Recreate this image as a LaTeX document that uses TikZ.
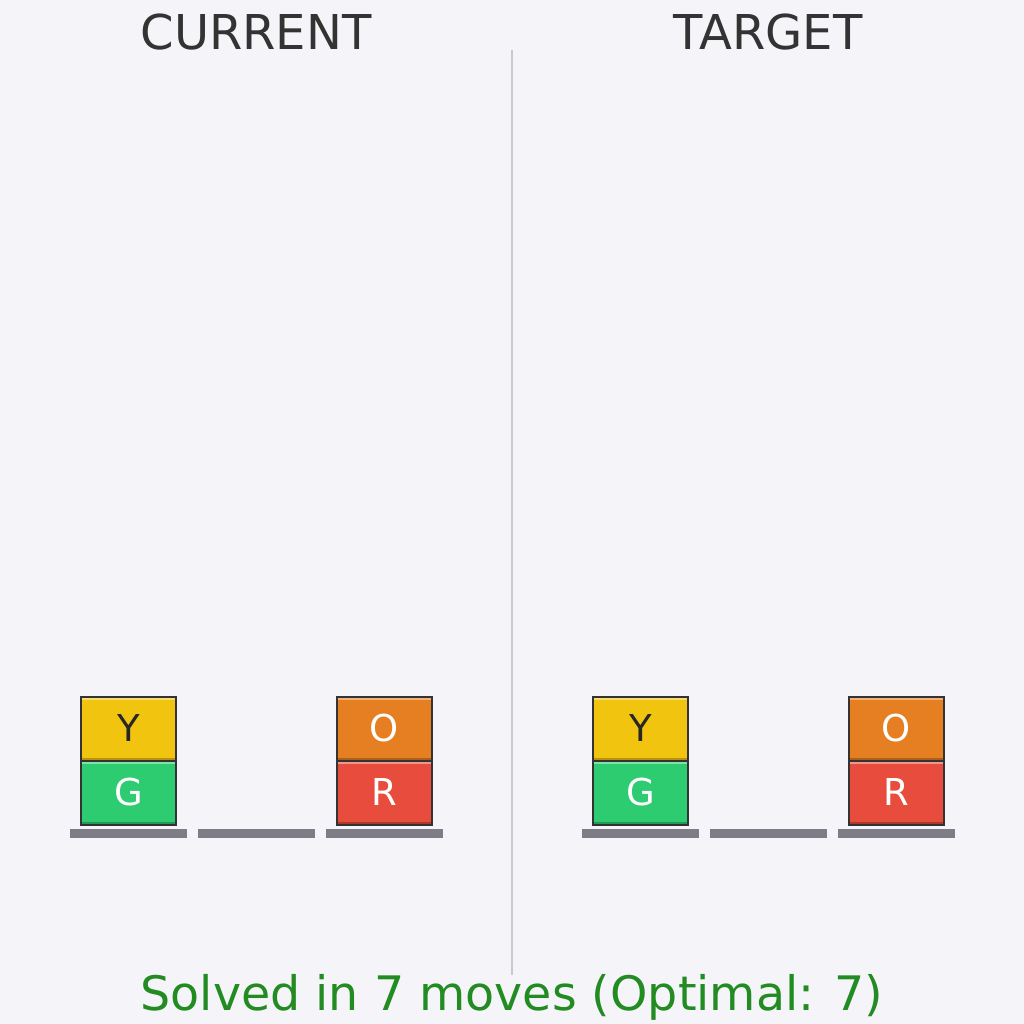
\documentclass[tikz,border=0pt]{standalone}
\usepackage{fontspec}
\setmainfont{DejaVu Sans}
\usetikzlibrary{backgrounds}

\definecolor{bgcol}{HTML}{F5F5F9}
\definecolor{inkcol}{HTML}{333333}
\definecolor{tablecol}{HTML}{7D7C87}
\definecolor{dividecol}{HTML}{C8C8CD}
\definecolor{blkY}{HTML}{F1C40F}
\definecolor{blkG}{HTML}{2ECC71}
\definecolor{blkO}{HTML}{E67E22}
\definecolor{blkR}{HTML}{E74C3C}
\definecolor{solvedcol}{HTML}{228B22}

\begin{document}
\begin{tikzpicture} [x=1pt,y=-1pt,
			title/.style={text=inkcol,font=\fontsize{48}{48}\selectfont,anchor=center},
			table/.style={fill=tablecol,minimum width=117pt,minimum height=9pt,inner sep=0pt},
			block/.style={fill=#1,draw=inkcol,line width=2pt,minimum width=95pt,minimum height=64pt,
				inner sep=0pt,text=white,font=\fontsize{37}{37}\selectfont,
				path picture={
					\fill[#1!60!white] (path picture bounding box.north west) rectangle ([yshift=-3pt]path picture bounding box.north east);
					\fill[#1!75!black] ([yshift=3pt]path picture bounding box.south west) rectangle (path picture bounding box.south east);}}
			]

		\useasboundingbox (0,0) rectangle (1024,1024);
		\fill[bgcol] (0,0) rectangle (1024,1024);

		% headings and divider
		\node [title] (cur) at (256,32) {CURRENT};
		\node [title] (tgt) at (768,32) {TARGET};
		\coordinate (divtop) at (512,50);
		\coordinate (divbot) at (512,975);
		\draw [dividecol,line width=1.5pt] (divtop) -- (divbot);

		% current state
		\node [table] (c1) at (128.5,833.5) {};
		\node [table] (c2) at (256.5,833.5) {};
		\node [table] (c3) at (384.5,833.5) {};
		\node [block=blkG] (cG) at (128.5,792.5) {G};
		\node [block=blkY,text=black!85] (cY) at (128.5,728.5) {Y};
		\node [block=blkR] (cR) at (384.5,792.5) {R};
		\node [block=blkO] (cO) at (384.5,728.5) {O};

		% target state
		\node [table] (t1) at (640.5,833.5) {};
		\node [table] (t2) at (768.5,833.5) {};
		\node [table] (t3) at (896.5,833.5) {};
		\node [block=blkG] (tG) at (640.5,792.5) {G};
		\node [block=blkY,text=black!85] (tY) at (640.5,728.5) {Y};
		\node [block=blkR] (tR) at (896.5,792.5) {R};
		\node [block=blkO] (tO) at (896.5,728.5) {O};

		\node [text=solvedcol,font=\fontsize{47.5}{47.5}\selectfont] (msg) at (512,997) {Solved in 7 moves (Optimal: 7)};

		\end{tikzpicture}
\end{document}
